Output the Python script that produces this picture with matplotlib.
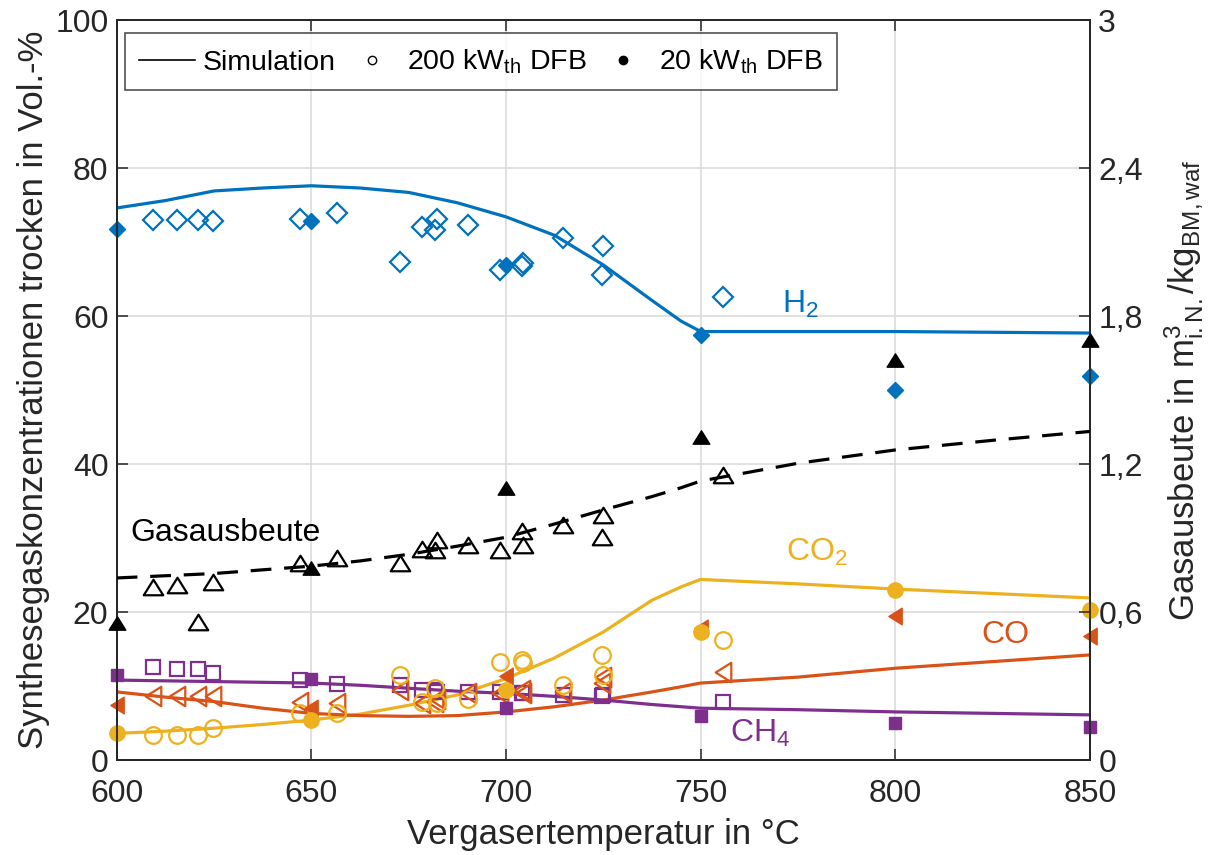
import matplotlib
matplotlib.use("Agg")
import matplotlib.pyplot as plt
from matplotlib.lines import Line2D
from matplotlib.path import Path

plt.rcParams['font.family'] = ['Liberation Sans', 'DejaVu Sans']
plt.rcParams['mathtext.fontset'] = 'custom'
plt.rcParams['mathtext.rm'] = 'Liberation Sans'
plt.rcParams['mathtext.it'] = 'Liberation Sans'
plt.rcParams['mathtext.default'] = 'regular'

# ---------------- data ----------------
T_SIM = [600, 612.5, 625, 637.5, 650, 662.5, 675, 687.5, 700, 712.5, 725, 737.5, 745, 750, 775, 800, 825, 850]
H2_SIM = [74.6, 75.6, 76.9, 77.3, 77.6, 77.3, 76.7, 75.3, 73.4, 70.9, 66.9, 62.1, 59.3, 57.9, 57.9, 57.9, 57.8, 57.7]
CO2_SIM = [3.6, 3.9, 4.3, 4.8, 5.4, 6.2, 7.4, 8.8, 11.0, 13.8, 17.3, 21.6, 23.4, 24.4, 23.8, 23.1, 22.5, 21.9]
CO_SIM = [9.2, 8.5, 7.9, 7.0, 6.3, 6.0, 5.9, 6.0, 6.5, 7.2, 8.1, 9.2, 9.9, 10.4, 11.2, 12.4, 13.3, 14.2]
CH4_SIM = [10.8, 10.7, 10.6, 10.5, 10.4, 10.1, 9.7, 9.3, 9.0, 8.6, 8.1, 7.5, 7.2, 7.0, 6.8, 6.5, 6.3, 6.1]
GAS_SIM = [0.738, 0.747, 0.756, 0.771, 0.786, 0.807, 0.834, 0.867, 0.903, 0.957, 1.014, 1.068, 1.104, 1.131, 1.203, 1.257, 1.296, 1.332]

T_200 = [609.4, 615.4, 621.0, 624.8, 647.1, 656.5, 672.8, 678.3, 681.8, 682.2, 690.3, 698.5, 704.0, 704.4, 714.7, 724.6, 725.0, 755.8]
H2_200 = [73.0, 73.0, 73.0, 72.9, 73.1, 73.9, 67.3, 72.0, 71.6, 73.1, 72.3, 66.2, 66.7, 67.2, 70.5, 65.5, 69.4, 62.6]
CO2_200 = [3.4, 3.4, 3.4, 4.3, 6.3, 6.3, 11.5, 7.9, 9.7, 7.7, 8.2, 13.3, 13.5, 13.1, 10.1, 14.2, 11.5, 16.2]
CO_200 = [8.6, 8.6, 8.6, 8.6, 7.9, 7.7, 9.5, 7.7, 7.9, 8.3, 9.0, 9.0, 9.5, 9.0, 9.2, 10.4, 11.2, 11.9]
CH4_200 = [12.6, 12.3, 12.3, 11.7, 10.8, 10.3, 10.1, 9.4, 9.5, 9.2, 9.2, 9.2, 9.0, 9.0, 8.8, 8.6, 8.8, 7.9]
GAS_200 = [0.702, 0.708, 0.561, 0.723, 0.798, 0.819, 0.798, 0.855, 0.852, 0.891, 0.873, 0.852, 0.927, 0.873, 0.954, 0.906, 0.993, 1.155]

T_20 = [600, 650, 700, 750, 800, 850]
H2_20 = [71.8, 72.9, 66.9, 57.4, 50.0, 51.9]
CO2_20 = [3.6, 5.4, 9.5, 17.3, 23.0, 20.3]
CO_20 = [7.4, 7.0, 11.3, 17.8, 19.4, 16.7]
CH4_20 = [11.5, 10.9, 7.0, 5.9, 5.0, 4.5]
GAS_20 = [0.555, 0.777, 1.101, 1.311, 1.623, 1.704]

X_TICKS = [600, 650, 700, 750, 800, 850]
Y_TICKS = [0, 20, 40, 60, 80, 100]
Y2_TICKS = [0, 0.6, 1.2, 1.8, 2.4, 3.0]
Y2_LABELS = ['0', '0,6', '1,2', '1,8', '2,4', '3']

# ---------------- style ----------------
C_H2 = '#0072BD'
C_CO2 = '#EDB120'
C_CO = '#D95319'
C_CH4 = '#7E2F8E'
C_K = '#000000'
AX_C = '#262626'

TRI_UP = Path([(-1, -0.8), (1, -0.8), (0, 0.8), (-1, -0.8)], closed=True)
TRI_LEFT = Path([(0.8, -1), (0.8, 1), (-0.8, 0), (0.8, -1)], closed=True)

fig = plt.figure(figsize=(12.17, 8.55), dpi=100)
ax = fig.add_axes([0.0959, 0.1111, 0.7997, 0.8655])
ax2 = ax.twinx()

LW = 2.3
# simulation lines
ax.plot(T_SIM, H2_SIM, color=C_H2, lw=LW, zorder=3)
ax.plot(T_SIM, CO2_SIM, color=C_CO2, lw=LW, zorder=3)
ax.plot(T_SIM, CO_SIM, color=C_CO, lw=LW, zorder=3)
ax.plot(T_SIM, CH4_SIM, color=C_CH4, lw=LW, zorder=3)
ax2.plot(T_SIM, GAS_SIM, color=C_K, lw=LW, dashes=(6.5, 4.0), zorder=3)

MEW = 1.6
# 200 kW (open)
ax.plot(T_200, H2_200, ls='none', marker='D', ms=10.5, mfc='none', mec=C_H2, mew=MEW, zorder=4)
ax.plot(T_200, CH4_200, ls='none', marker='s', ms=9.5, mfc='none', mec=C_CH4, mew=MEW, zorder=4)
ax.plot(T_200, CO_200, ls='none', marker=TRI_LEFT, ms=14, mfc='none', mec=C_CO, mew=MEW, zorder=4)
ax.plot(T_200, CO2_200, ls='none', marker='o', ms=12, mfc='none', mec=C_CO2, mew=MEW, zorder=4)
ax2.plot(T_200, GAS_200, ls='none', marker=TRI_UP, ms=14, mfc='none', mec=C_K, mew=MEW, zorder=4)

# 20 kW (filled)
ax.plot(T_20, H2_20, ls='none', marker='D', ms=8, color=C_H2, zorder=5, clip_on=False)
ax.plot(T_20, CH4_20, ls='none', marker='s', ms=8, color=C_CH4, zorder=5, clip_on=False)
ax.plot(T_20, CO_20, ls='none', marker=TRI_LEFT, ms=12, color=C_CO, zorder=5, clip_on=False)
ax.plot(T_20, CO2_20, ls='none', marker='o', ms=11, color=C_CO2, zorder=5, clip_on=False)
ax2.plot(T_20, GAS_20, ls='none', marker=TRI_UP, ms=12, color=C_K, zorder=5, clip_on=False)

# axes
FS_TICK = 23
FS_LAB = 25
ax.set_xlim(600, 850)
ax.set_ylim(0, 100)
ax2.set_ylim(0, 3)
ax.set_xticks(X_TICKS)
ax.set_yticks(Y_TICKS)
ax2.set_yticks(Y2_TICKS)
ax2.set_yticklabels(Y2_LABELS)
ax.grid(True, color='#dcdcdc', lw=1.2, zorder=0)
ax.set_axisbelow(True)
for a in (ax, ax2):
    for s in a.spines.values():
        s.set_color(AX_C)
        s.set_linewidth(1.3)
ax.tick_params(axis='both', direction='in', length=8, width=1.1, colors=AX_C,
               labelsize=FS_TICK, labelcolor=AX_C, top=True, pad=6)
ax.tick_params(axis='x', pad=14)
ax.tick_params(axis='y', right=False)
ax2.tick_params(axis='y', direction='in', length=8, width=1.1, colors=AX_C,
                labelsize=FS_TICK, labelcolor=AX_C, pad=6)
ax.set_xlabel('Vergasertemperatur in °C', fontsize=FS_LAB, color=AX_C, labelpad=6)
ax.set_ylabel('Synthesegaskonzentrationen trocken in Vol.-%', fontsize=FS_LAB, color=AX_C, labelpad=4)
ax2.set_ylabel(r'Gasausbeute in m$^{3}_{i.N.}$/kg$_{BM,waf}$', fontsize=FS_LAB, color=AX_C, labelpad=14)

# annotations
FS_ANN = 23
ax.text(771, 61.5, r'H$_2$', color=C_H2, fontsize=FS_ANN, va='center', ha='left')
ax.text(772, 28.0, r'CO$_2$', color=C_CO2, fontsize=FS_ANN, va='center', ha='left')
ax.text(822, 16.9, 'CO', color=C_CO, fontsize=FS_ANN, va='center', ha='left')
ax.text(757.6, 3.6, r'CH$_4$', color=C_CH4, fontsize=FS_ANN, va='center', ha='left')
ax.text(603.4, 30.7, 'Gasausbeute', color=C_K, fontsize=FS_ANN, va='center', ha='left')

# legend
handles = [
    Line2D([], [], color=C_K, lw=1.2),
    Line2D([], [], ls='none', marker='o', ms=6, mfc='none', mec=C_K, mew=1.0),
    Line2D([], [], ls='none', marker='o', ms=6, color=C_K),
]
labels = ['Simulation', r'200 kW$_{th}$ DFB', r'20 kW$_{th}$ DFB']
leg = ax2.legend(handles, labels, loc='upper left', bbox_to_anchor=(0.0085, 0.982),
                 borderaxespad=0, ncol=3, fontsize=20.5, frameon=True, fancybox=False,
                 handlelength=1.95, handletextpad=0.27, columnspacing=0.3,
                 borderpad=0.5)
leg.get_frame().set_edgecolor(AX_C)
leg.get_frame().set_linewidth(1.2)
leg.set_zorder(10)

fig.savefig('out.png', dpi=100)
